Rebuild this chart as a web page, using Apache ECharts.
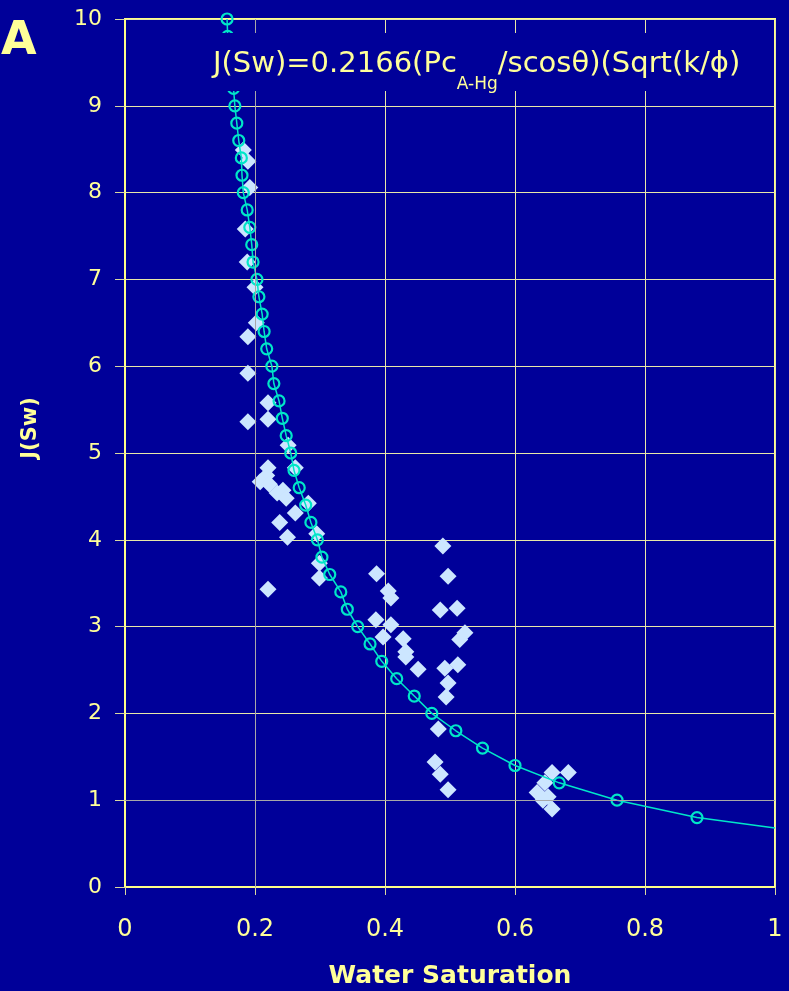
<!DOCTYPE html>
<html><head><meta charset="utf-8">
<script src="https://cdn.jsdelivr.net/npm/echarts@6/dist/echarts.min.js"></script>
<style>html,body{margin:0;padding:0;background:#000099;}#c{width:789px;height:991px;}</style>
</head><body><div id="c"></div>
<script>
// Fitted J-function curve (hollow circles + line)
const curveSw = [0.157,0.158,0.167,0.169,0.172,0.175,0.179,0.180,0.182,0.188,0.192,0.195,0.197,0.203,0.206,0.211,0.214,0.218,0.226,0.229,0.237,0.242,0.248,0.255,0.260,0.268,0.278,0.286,0.296,0.303,0.315,0.332,0.342,0.358,0.377,0.395,0.418,0.445,0.472,0.509,0.550,0.600,0.668,0.757,0.880,1.000];
const curveJ  = [10.0,9.8,9.2,9.0,8.8,8.6,8.4,8.2,8.0,7.8,7.6,7.4,7.2,7.0,6.8,6.6,6.4,6.2,6.0,5.8,5.6,5.4,5.2,5.0,4.8,4.6,4.4,4.2,4.0,3.8,3.6,3.4,3.2,3.0,2.8,2.6,2.4,2.2,2.0,1.8,1.6,1.4,1.2,1.0,0.8,0.68];
// Measured samples (diamonds)
const pointSw = [0.182,0.189,0.192,0.185,0.188,0.200,0.202,0.189,0.189,0.220,0.189,0.220,0.251,0.262,0.220,0.218,0.208,0.222,0.234,0.243,0.248,0.282,0.262,0.238,0.250,0.295,0.299,0.299,0.220,0.387,0.405,0.409,0.386,0.409,0.397,0.428,0.432,0.432,0.451,0.489,0.497,0.485,0.511,0.523,0.515,0.492,0.512,0.497,0.494,0.482,0.477,0.485,0.497,0.682,0.657,0.646,0.634,0.643,0.657,0.651];
const pointJ  = [8.49,8.36,8.06,7.58,7.20,6.91,6.50,6.34,5.92,5.58,5.36,5.39,5.09,4.83,4.83,4.74,4.67,4.64,4.54,4.57,4.48,4.42,4.31,4.20,4.03,4.07,3.73,3.56,3.43,3.61,3.41,3.33,3.08,3.02,2.88,2.86,2.71,2.65,2.51,3.93,3.58,3.19,3.21,2.93,2.85,2.52,2.56,2.35,2.19,1.82,1.44,1.30,1.12,1.32,1.32,1.20,1.09,1.00,0.90,1.04];
const xTicks = [0,0.2,0.4,0.6,0.8,1];
const yTicks = [0,1,2,3,4,5,6,7,8,9,10];
const formulaMain = 'J(Sw)=0.2166(Pc';
const formulaSub = 'A-Hg';
const formulaTail = '/scosθ)(Sqrt(k/ϕ)';
const panelLabel = 'A';

const FONT = 'DejaVu Sans';
const TXT = '#ffff99';
const BG = '#000099';
const CURVE = '#00e6c8';
const DIAM = '#cce6ff';

function tw(t, size, weight){
  const c = document.createElement('canvas').getContext('2d');
  c.font = (weight||'normal') + ' ' + size + 'px "' + FONT + '"';
  return c.measureText(t).width;
}

const curveData = curveSw.map((x,i)=>{
  const d = {value:[x, curveJ[i]]};
  if (i === curveSw.length-1) d.symbol = 'none';
  return d;
});
const pointData = pointSw.map((x,i)=>[x, pointJ[i]]);

const fx = 213, fy = 64, mainSize = 29, subSize = 17;
const w1 = tw(formulaMain, mainSize), w2 = tw(formulaSub, subSize);

const chart = echarts.init(document.getElementById('c'));
chart.setOption({
  animation:false,
  backgroundColor: BG,
  textStyle:{fontFamily:FONT},
  grid:{left:125,right:14,top:19,bottom:104,containLabel:false,outerBoundsMode:'none',show:true,borderColor:'#ffff88',borderWidth:2,backgroundColor:'transparent'},
  xAxis:{
    type:'value',min:xTicks[0],max:xTicks[xTicks.length-1],interval:0.2,
    name:'Water Saturation',nameLocation:'middle',nameGap:77,
    nameTextStyle:{color:TXT,fontFamily:FONT,fontWeight:'bold',fontSize:25},
    axisLine:{show:true,onZero:false,lineStyle:{color:'#ffff88',width:2}},
    axisTick:{show:true,length:8,lineStyle:{color:'#d8d8a0'}},
    axisLabel:{color:TXT,fontFamily:FONT,fontSize:24,margin:31},
    splitLine:{show:true,lineStyle:{color:'#e8e8a8',width:1}}
  },
  yAxis:{
    type:'value',min:yTicks[0],max:yTicks[yTicks.length-1],interval:1,
    name:'J(Sw)',nameLocation:'middle',nameGap:84,
    nameTextStyle:{color:TXT,fontFamily:FONT,fontWeight:'bold',fontSize:21,padding:[0,0,0,50]},
    axisLine:{show:true,onZero:false,lineStyle:{color:'#ffff88',width:2}},
    axisTick:{show:true,length:10,lineStyle:{color:'#d8d8a0'}},
    axisLabel:{color:TXT,fontFamily:FONT,fontSize:22,margin:23},
    splitLine:{show:true,lineStyle:{color:'#e8e8a8',width:1}}
  },
  series:[
    {
      type:'scatter',data:pointData,symbol:'diamond',symbolSize:[17,17],
      itemStyle:{color:DIAM,opacity:1},z:2,
      markLine:{silent:true,symbol:'none',label:{show:false},animation:false,
        lineStyle:{color:'#a8a8a8',width:1,type:'solid'},
        data:[{xAxis:0.2},{yAxis:1}]}
    },
    {
      type:'line',data:curveData,symbol:'circle',symbolSize:11,showAllSymbol:true,
      lineStyle:{color:CURVE,width:1.5},
      itemStyle:{color:'transparent',borderColor:CURVE,borderWidth:2.2},
      z:3
    }
  ],
  graphic:[
    {type:'rect',z:50,shape:{x:205,y:33,width:565,height:58},style:{fill:BG}},
    {type:'text',z:51,x:fx,y:fy,style:{text:formulaMain,fontFamily:FONT,fontSize:mainSize,fill:TXT,verticalAlign:'middle'}},
    {type:'text',z:51,x:fx+w1,y:fy+21,style:{text:formulaSub,fontFamily:FONT,fontSize:subSize,fill:TXT,verticalAlign:'middle'}},
    {type:'text',z:51,x:fx+w1+w2,y:fy,style:{text:formulaTail,fontFamily:FONT,fontSize:mainSize,fill:TXT,verticalAlign:'middle'}},
    {type:'text',z:51,x:1,y:42,style:{text:panelLabel,fontFamily:FONT,fontWeight:'bold',fontSize:46,fill:TXT,verticalAlign:'middle'}}
  ]
});
</script></body></html>
